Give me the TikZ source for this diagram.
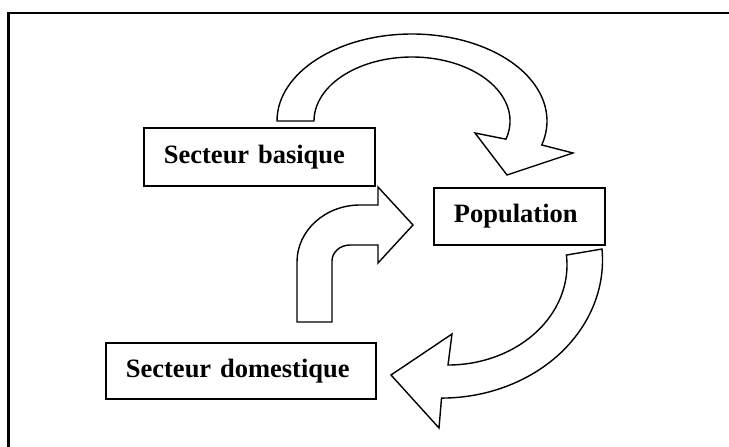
\documentclass[tikz,border=0pt]{standalone}
\usepackage{fontspec}
\setmainfont{Liberation Serif}
\begin{document}
\begin{tikzpicture}[x=1pt,y=-1pt,
  lbox/.style={draw, line width=1.8pt, inner xsep=20pt, inner ysep=0pt, align=left,
    font=\fontsize{26.5}{30}\selectfont\bfseries, anchor=north west},
  bigarrow/.style={draw, line width=1.4pt, line join=miter, fill=white}]
\useasboundingbox (0,0) rectangle (729,447);
% frame
\draw[line width=2.2pt] (8.5,447) -- (8.5,12.7) -- (729,12.7);
% boxes
\node[lbox, text width=191pt, minimum height=58pt] (basique) at (143,127) {Secteur basique};
\node[lbox, text width=131pt, minimum height=57pt] (pop) at (433,187) {Population};
\node[lbox, text width=230pt, minimum height=56pt] (dom) at (105,342) {Secteur domestique};
% top curved arrow
\draw[bigarrow] (277,121) arc[start angle=180,end angle=376,x radius=135,y radius=87]
  -- (573,153) -- (507,175) -- (475,133)
  -- ([shift={(412,121)}]16.5:98 and 64)
  arc[start angle=16.5,end angle=-180,x radius=98,y radius=64] -- cycle;
% bent arrow
\draw[bigarrow] (297,322) -- (297,262)
  arc[start angle=180,end angle=270,x radius=63,y radius=57]
  -- (378,205) -- (378,187) -- (413,225) -- (378,263) -- (378,245) -- (350,245)
  arc[start angle=270,end angle=180,x radius=18,y radius=16]
  -- (332,322) -- cycle;
% bottom right curved arrow
\draw[bigarrow] (602,249) arc[start angle=-4.6,end angle=90,x radius=161,y radius=138]
  -- (439,428) -- (391,375) -- (452,334) -- (448,365)
  arc[start angle=90,end angle=-5.7,x radius=119,y radius=100] -- cycle;
\end{tikzpicture}
\end{document}
